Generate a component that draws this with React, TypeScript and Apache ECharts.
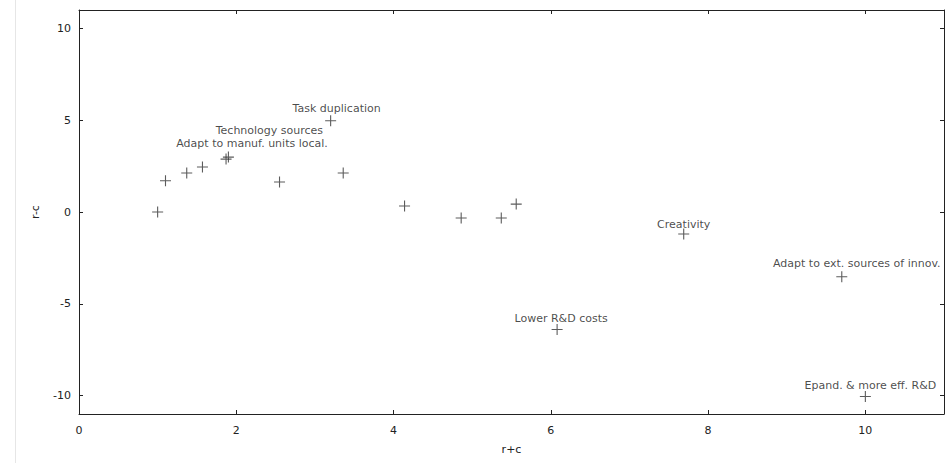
import React, { useEffect, useRef } from "react";
import * as echarts from "echarts";

const xValues = [1.0, 1.1, 1.37, 1.57, 1.87, 1.9, 2.55, 3.2, 3.36, 4.14, 4.86, 5.37, 5.56, 6.08, 7.69, 9.7, 10.0];
const yValues = [0.0, 1.7, 2.12, 2.45, 2.88, 2.99, 1.63, 4.97, 2.12, 0.33, -0.33, -0.33, 0.43, -6.4, -1.2, -3.53, -10.05];
const pointLabels = [
  "", "", "", "", "Adapt to manuf. units local.", "Technology sources", "", "Task duplication", "", "", "", "", "",
  "Lower R&D costs", "Creativity", "Adapt to ext. sources of innov.", "Epand. & more eff. R&D",
];
const labelOffsets: [number, number][] = [
  [0, 0], [0, 0], [0, 0], [0, 0], [26, -16], [41, -27], [0, 0], [6, -12], [0, 0], [0, 0], [0, 0], [0, 0], [0, 0],
  [4, -11], [0, -10], [15, -13], [5, -11],
];
const xTicks = [0, 2, 4, 6, 8, 10];
const yTicks = [-10, -5, 0, 5, 10];

const PLUS = "path://M4.5,0h1v4.5h4.5v1h-4.5v4.5h-1v-4.5h-4.5v-1h4.5z";
const FONT = "DejaVu Sans";

export default function App() {
  const ref = useRef<HTMLDivElement>(null);
  useEffect(() => {
    if (!ref.current) return;
    const chart = echarts.init(ref.current, null, { renderer: "svg" });
    const data = xValues.map((x, i) => ({
      value: [x, yValues[i]],
      label: {
        show: pointLabels[i] !== "",
        formatter: pointLabels[i],
        offset: labelOffsets[i],
      },
    }));
    const axisLine = { show: true, onZero: false, lineStyle: { color: "#222", width: 1 } };
    const tick = { show: true, inside: true, length: 4, lineStyle: { color: "#222" } };
    chart.setOption({
      animation: false,
      backgroundColor: "#fff",
      grid: { left: 79, top: 10, right: 2, bottom: 49, containLabel: false },
      xAxis: [
        {
          type: "value", min: 0, max: 11, interval: 2,
          axisLine, axisTick: { ...tick, customValues: xTicks }, splitLine: { show: false },
          axisLabel: {
            color: "#222", fontFamily: FONT, fontSize: 11, margin: 11,
            customValues: xTicks,
          },
          name: "r+c", nameLocation: "middle", nameGap: 30,
          nameTextStyle: { color: "#222", fontFamily: FONT, fontSize: 11 },
        },
        {
          type: "value", position: "top", min: 0, max: 11, interval: 2,
          axisLine, axisTick: { ...tick, customValues: xTicks }, axisLabel: { show: false, customValues: xTicks },
          splitLine: { show: false },
        },
      ],
      yAxis: [
        {
          type: "value", min: -11, max: 11, interval: 5,
          axisLine, axisTick: { ...tick, customValues: yTicks }, splitLine: { show: false },
          axisLabel: {
            color: "#222", fontFamily: FONT, fontSize: 11, margin: 8,
            customValues: yTicks,
          },
          name: "r-c", nameLocation: "middle", nameGap: 38, nameRotate: 90,
          nameTextStyle: { color: "#222", fontFamily: FONT, fontSize: 11 },
        },
        {
          type: "value", position: "right", min: -11, max: 11, interval: 5,
          axisLine, axisTick: { ...tick, customValues: yTicks }, axisLabel: { show: false, customValues: yTicks },
          splitLine: { show: false },
        },
      ],
      graphic: [
        {
          type: "line", shape: { x1: 15.5, y1: 0, x2: 15.5, y2: 463 },
          style: { stroke: "#e6e6e6", lineWidth: 1 }, silent: true,
        },
      ],
      series: [
        {
          type: "scatter",
          data,
          symbol: PLUS,
          symbolSize: 11,
          itemStyle: { color: "#333" },
          label: {
            position: "inside",
            color: "#1a1a1a",
            fontFamily: FONT,
            fontSize: 11,
          },
        },
      ],
    });
    return () => chart.dispose();
  }, []);
  return <div ref={ref} style={{ width: 946, height: 463, position: "fixed", left: 0, top: 0 }} />;
}
